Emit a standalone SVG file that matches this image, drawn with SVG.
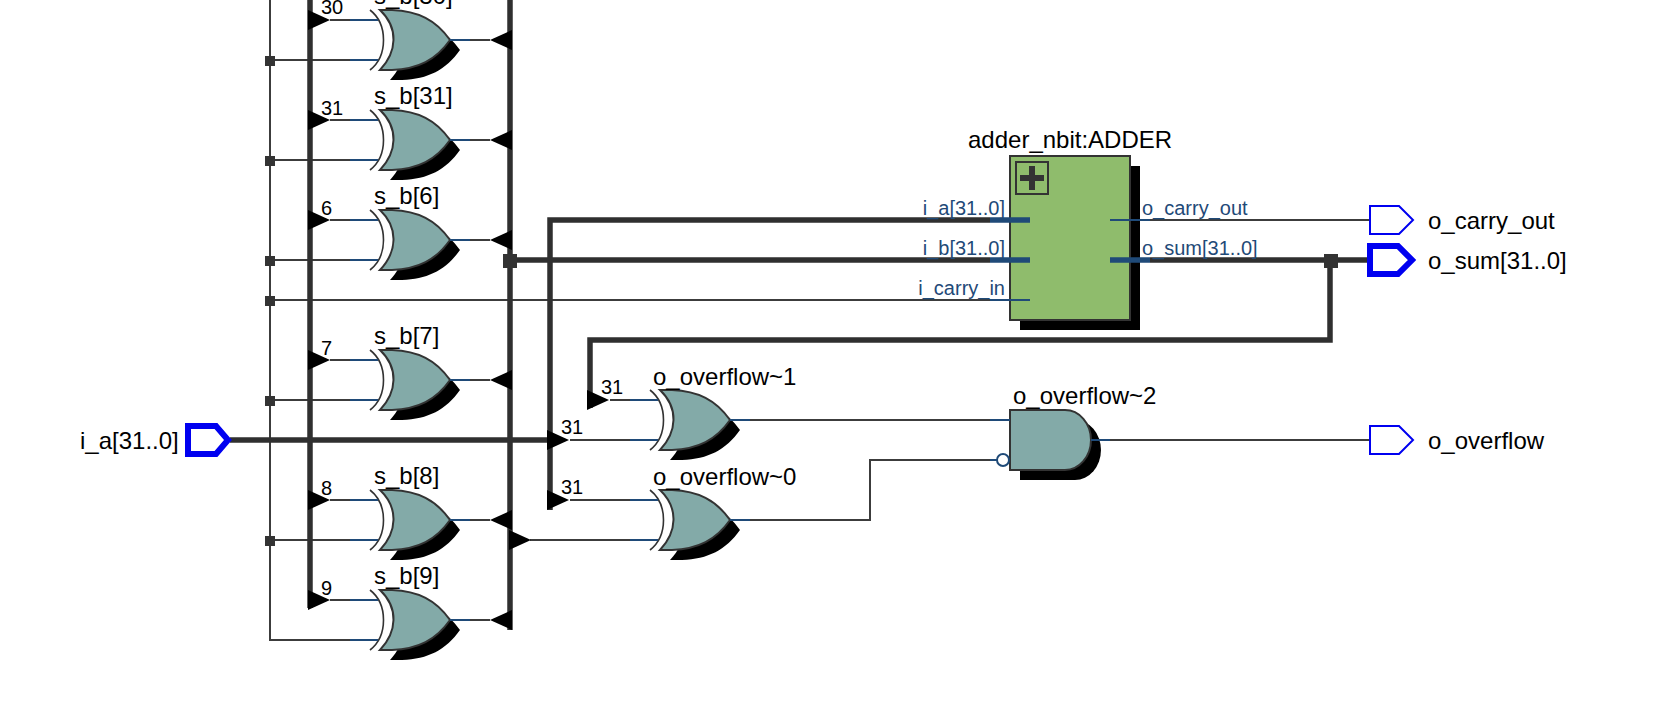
<svg xmlns="http://www.w3.org/2000/svg" width="1674" height="722" viewBox="0 0 1674 722">
<style>
text{font-family:"Liberation Sans",Arial,sans-serif;fill:#000}
.l{font-size:24px}.n{font-size:20px}
.p{font-size:20px;fill:#1f4a78}
.w{fill:none;stroke:#3c3c3c;stroke-width:2}
.b{fill:none;stroke:#2f2f2f;stroke-width:5.5}
.pin{fill:none;stroke:#1f4a78;stroke-width:2}
.pinb{fill:none;stroke:#1f4a78;stroke-width:5.5}
.j{fill:#333}
.t{fill:#000}
.port{fill:#fff;stroke:#0000f0;stroke-width:2}
.portb{fill:#fff;stroke:#0000f0;stroke-width:6}
</style>
<defs>
<path id="body" d="M380 10H392C418 11 436 20 450 40C436 60 418 69 392 70H380C397 52 399 28 380 10Z"/>
<g id="xor">
<use href="#body" x="10" y="10" fill="#000"/>
<use href="#body" fill="#83aaa8" stroke="#333" stroke-width="2"/>
<path d="M370 10C388 24 388 56 370 70" fill="none" stroke="#333" stroke-width="1.6"/>
<path class="pin" d="M350 20H378M350 60H378M450 40H470"/>
</g>
<path id="tr" d="M0 -10L22 0L0 10Z"/>
<path id="tl" d="M0 -10L-22 0L0 10Z"/>
</defs>
<g id="connectors">
<path class="w" d="M270 0V640H350"/>
<path class="w" d="M270 60H350M270 160H350M270 260H350M270 400H350M270 540H350M270 300H990"/>
<path class="w" d="M330 20H350M330 120H350M330 220H350M330 360H350M330 500H350M330 600H350"/>
<path class="w" d="M470 40H490M470 140H490M470 240H490M470 380H490M470 520H490M470 620H490"/>
<path class="w" d="M530 540H640M610 400H640M570 440H640M570 500H640"/>
<path class="w" d="M750 420H990M750 520H870V460H990"/>
<path class="w" d="M1150 220H1370M1110 440H1370"/>
<path class="b" d="M310 0V608M510 0V630M230 440H550M550 510V220H990M510 260H990"/>
<path class="b" d="M1150 260H1368M1330 260V340H590V408"/>
<g class="t">
<use href="#tr" x="308" y="20"/><use href="#tr" x="308" y="120"/><use href="#tr" x="308" y="220"/>
<use href="#tr" x="308" y="360"/><use href="#tr" x="308" y="500"/><use href="#tr" x="308" y="600"/>
<use href="#tl" x="512" y="40"/><use href="#tl" x="512" y="140"/><use href="#tl" x="512" y="240"/>
<use href="#tl" x="512" y="380"/><use href="#tl" x="512" y="520"/><use href="#tl" x="512" y="620"/>
<use href="#tr" x="509" y="540"/>
<use href="#tr" x="547" y="440"/><use href="#tr" x="547" y="500"/><use href="#tr" x="587" y="400"/>
</g>
<g class="j">
<rect x="265" y="56" width="10" height="10"/><rect x="265" y="156" width="10" height="10"/>
<rect x="265" y="256" width="10" height="10"/><rect x="265" y="296" width="10" height="10"/>
<rect x="265" y="396" width="10" height="10"/><rect x="265" y="536" width="10" height="10"/>
<rect x="503" y="254" width="14" height="14"/><rect x="1324" y="254" width="14" height="14"/>
</g>
<g class="n">
<text x="321" y="14">30</text><text x="321" y="115">31</text><text x="321" y="215">6</text>
<text x="321" y="355">7</text><text x="321" y="495">8</text><text x="321" y="595">9</text>
<text x="601" y="394">31</text><text x="561" y="434">31</text><text x="561" y="494">31</text>
</g>
</g>
<g id="s_b_30"><use href="#xor"/><text class="l" x="374" y="4">s_b[30]</text></g>
<g id="s_b_31"><use href="#xor" y="100"/><text class="l" x="374" y="104">s_b[31]</text></g>
<g id="s_b_6"><use href="#xor" y="200"/><text class="l" x="374" y="204">s_b[6]</text></g>
<g id="s_b_7"><use href="#xor" y="340"/><text class="l" x="374" y="344">s_b[7]</text></g>
<g id="s_b_8"><use href="#xor" y="480"/><text class="l" x="374" y="484">s_b[8]</text></g>
<g id="s_b_9"><use href="#xor" y="580"/><text class="l" x="374" y="584">s_b[9]</text></g>
<g id="o_overflow_1"><use href="#xor" x="280" y="380"/><text class="l" x="653" y="385">o_overflow~1</text></g>
<g id="o_overflow_0"><use href="#xor" x="280" y="480"/><text class="l" x="653" y="485">o_overflow~0</text></g>
<g id="o_overflow_2">
<path d="M1020 420H1075A26 30 0 0 1 1075 480H1020Z" fill="#000"/>
<path d="M1010 410H1065A26 30 0 0 1 1065 470H1010Z" fill="#83aaa8" stroke="#333" stroke-width="2"/>
<path class="pin" d="M990 420H1010M990 460H997M1091 440H1110"/>
<circle cx="1003" cy="460" r="6" fill="#fff" stroke="#1f4a78" stroke-width="2"/>
<text class="l" x="1013" y="404">o_overflow~2</text>
</g>
<g id="adder">
<rect x="1020" y="166" width="120" height="164" fill="#000"/>
<rect x="1010" y="156" width="120" height="164" fill="#8fbc6c" stroke="#333" stroke-width="2"/>
<rect x="1016" y="162" width="32" height="32" fill="none" stroke="#333" stroke-width="2"/>
<path d="M1020 178H1044M1032 166V190" fill="none" stroke="#333" stroke-width="6"/>
<path class="pinb" d="M990 220H1030M990 260H1030M1110 260H1150"/>
<path class="pin" d="M990 300H1030M1110 220H1150"/>
<text class="p" x="1005" y="215" text-anchor="end">i_a[31..0]</text>
<text class="p" x="1005" y="255" text-anchor="end">i_b[31..0]</text>
<text class="p" x="1005" y="295" text-anchor="end">i_carry_in</text>
<text class="p" x="1142" y="215">o_carry_out</text>
<text class="p" x="1142" y="255">o_sum[31..0]</text>
<text class="l" x="968" y="148">adder_nbit:ADDER</text>
</g>
<g id="i_a">
<path class="portb" d="M188 426H216L228 440L216 454H188Z"/>
<text class="l" x="80" y="449">i_a[31..0]</text>
</g>
<g id="o_carry_out">
<path class="port" d="M1370 206H1399L1413 220L1399 234H1370Z"/>
<text class="l" x="1428" y="229">o_carry_out</text>
</g>
<g id="o_sum">
<path class="portb" d="M1370 246H1398L1412 260L1398 274H1370Z"/>
<text class="l" x="1428" y="269">o_sum[31..0]</text>
</g>
<g id="o_overflow">
<path class="port" d="M1370 426H1399L1413 440L1399 454H1370Z"/>
<text class="l" x="1428" y="449">o_overflow</text>
</g>
</svg>
